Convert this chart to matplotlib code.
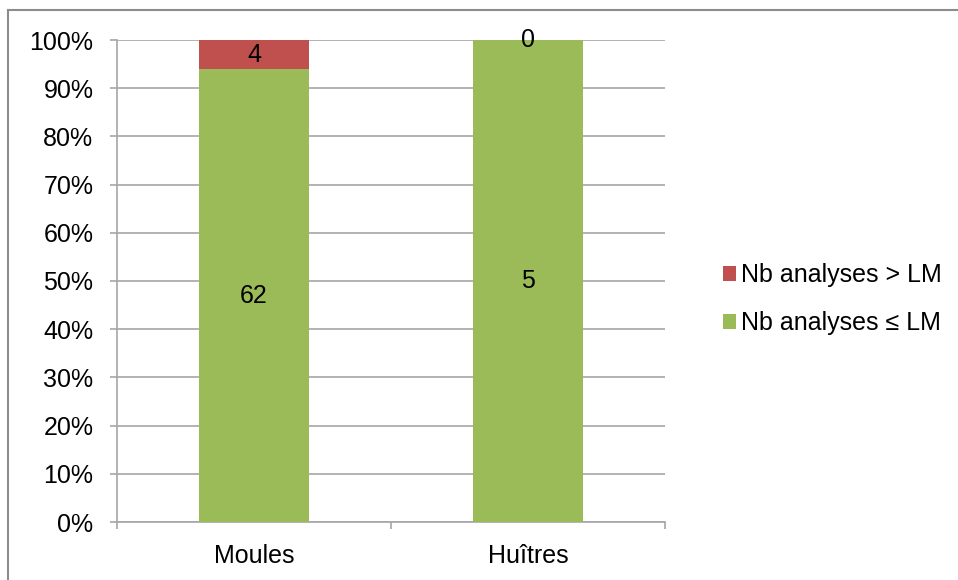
import matplotlib
matplotlib.use("Agg")
import matplotlib.pyplot as plt
from matplotlib.lines import Line2D
import numpy as np

plt.rcParams['font.family'] = ['Liberation Sans', 'DejaVu Sans']

categories = ["Moules", "Huîtres"]
above_lm = [4, 0]      # Nb analyses > LM
below_lm = [62, 5]     # Nb analyses ≤ LM
series_labels = ["Nb analyses > LM", "Nb analyses ≤ LM"]
yticks = [0, 10, 20, 30, 40, 50, 60, 70, 80, 90, 100]

red = "#C0504D"
green = "#9BBB59"
grid_col = "#A6A6A6"

above = np.array(above_lm, dtype=float)
below = np.array(below_lm, dtype=float)
total = above + below
below_pct = below / total * 100
above_pct = above / total * 100

fig = plt.figure(figsize=(9.58, 5.8), dpi=100)
ax = fig.add_axes([117/958, 1 - 522/580, (665 - 117)/958, (522 - 40)/580])

x = np.arange(len(categories))
w = 0.4
b1 = ax.bar(x, below_pct, width=w, color=green, zorder=3, label=series_labels[1])
b2 = ax.bar(x, above_pct, width=w, bottom=below_pct, color=red, zorder=3, label=series_labels[0])

fs = 18
for i in range(len(categories)):
    ax.text(x[i], below_pct[i] / 2, f"{below_lm[i]}", ha="center", va="center",
            fontsize=fs, zorder=4)
    ax.text(x[i], below_pct[i] + above_pct[i] / 2, f"{above_lm[i]}", ha="center",
            va="center", fontsize=fs, zorder=4)

ax.set_xlim(-0.5, len(categories) - 0.5)
ax.set_ylim(0, 100)
ax.set_yticks(yticks)
ax.set_yticklabels([f"{v}%" for v in yticks], fontsize=fs)
ax.yaxis.grid(True, color=grid_col, linewidth=1.2, zorder=0)
ax.tick_params(axis="y", length=5, width=1.2, color=grid_col, pad=12)

ax.set_xticks(x)
ax.set_xticklabels(categories, fontsize=fs)
ax.tick_params(axis="x", length=0, pad=16)
ax.set_xticks(np.arange(-0.5, len(categories)), minor=True)
ax.tick_params(axis="x", which="minor", length=5, width=1.2, color=grid_col)

for s in ["top", "right"]:
    ax.spines[s].set_visible(False)
for s in ["left", "bottom"]:
    ax.spines[s].set_color(grid_col)
    ax.spines[s].set_linewidth(1.2)

handles = [b2, b1]
leg = fig.legend(handles, series_labels, loc="center left",
                 bbox_to_anchor=(700/958, 1 - 299/580), frameon=False,
                 fontsize=fs, handlelength=0.55, handleheight=0.55,
                 handletextpad=0.2, labelspacing=0.95)

# Chart border (top and left edges)
fig.add_artist(Line2D([8/958, 1], [1 - 10/580, 1 - 10/580], color="#8C8C8C",
                      linewidth=1.5, transform=fig.transFigure))
fig.add_artist(Line2D([8/958, 8/958], [0, 1 - 10/580], color="#8C8C8C",
                      linewidth=1.5, transform=fig.transFigure))

fig.savefig("out.png", dpi=100)
